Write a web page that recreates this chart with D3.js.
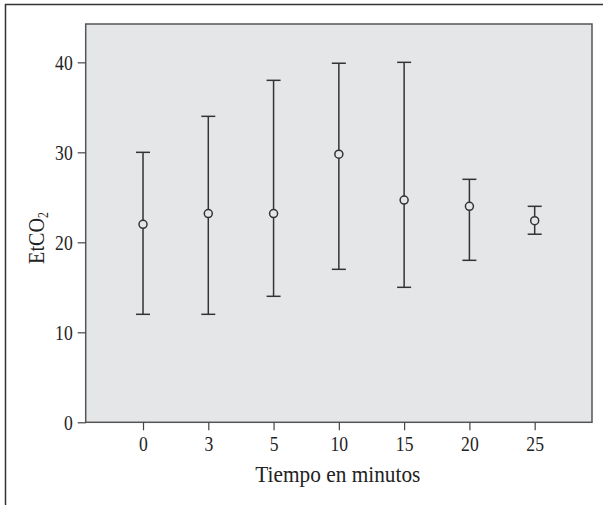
<!DOCTYPE html>
<html>
<head>
<meta charset="utf-8">
<script src="https://cdn.jsdelivr.net/npm/d3@7"></script>
<style>
  html, body { margin: 0; padding: 0; background: #fff; }
  svg { display: block; }
  text { font-family: "Liberation Serif", "Times New Roman", serif; fill: #222; }
</style>
</head>
<body>
<svg id="chart" width="603" height="505"></svg>
<script>
// Data
const categories = ["0", "3", "5", "10", "15", "20", "25"];
const means = [22, 23.2, 23.2, 29.8, 24.7, 24, 22.4];
const lowers = [12, 12, 14, 17, 15, 18, 20.9];
const uppers = [30, 34, 38, 39.9, 40, 27, 24];
const yTicks = [0, 10, 20, 30, 40];
const xTitle = "Tiempo en minutos";

const svg = d3.select("#chart");
const plot = { left: 85.7, top: 24, right: 592, bottom: 422.3 };

// Outer frame
svg.append("path")
  .attr("d", `M5.5,505 L5.5,4.5 L603,4.5`)
  .attr("fill", "none").attr("stroke", "#333").attr("stroke-width", 1.5);

const x = d3.scalePoint().domain(categories)
  .range([plot.left, plot.right]).padding(0.878);
const y = d3.scaleLinear().domain([0, 44.26]).range([plot.bottom, plot.top]);

// Plot background
svg.append("rect")
  .attr("x", plot.left).attr("y", plot.top)
  .attr("width", plot.right - plot.left).attr("height", plot.bottom - plot.top)
  .attr("fill", "#e5e6e8").attr("stroke", "#555").attr("stroke-width", 1.5);

const sx = 0.84;

// Y axis
const yAxis = svg.append("g")
  .attr("transform", `translate(${plot.left},0)`)
  .call(d3.axisLeft(y).tickValues(yTicks).tickSize(8).tickPadding(5).tickFormat(d3.format("d")));
yAxis.select(".domain").remove();
yAxis.selectAll("line").attr("stroke", "#444").attr("stroke-width", 1.2);
yAxis.selectAll("text").attr("font-size", 21).attr("fill", "#222")
  .attr("x", -13 / sx).attr("transform", `scale(${sx},1)`);

// X axis
const xAxis = svg.append("g")
  .attr("transform", `translate(0,${plot.bottom})`)
  .call(d3.axisBottom(x).tickSize(8).tickPadding(6));
xAxis.select(".domain").remove();
xAxis.selectAll("line").attr("stroke", "#444").attr("stroke-width", 1.2);
xAxis.selectAll("text").attr("font-size", 21).attr("fill", "#222")
  .attr("transform", `scale(${sx},1)`);

// Axis titles
svg.append("text")
  .attr("x", (plot.left + plot.right) / 2 - 1).attr("y", 482)
  .attr("text-anchor", "middle").attr("font-size", 24)
  .attr("textLength", 165).attr("lengthAdjust", "spacingAndGlyphs")
  .text(xTitle);

const yt = svg.append("text")
  .attr("transform", `translate(44,238) rotate(-90) scale(${sx},1)`)
  .attr("text-anchor", "middle").attr("font-size", 24);
yt.append("tspan").text("EtCO");
yt.append("tspan").attr("font-size", 14).attr("dy", 4).text("2");

// Error bars
const capW = 7;
const g = svg.append("g").attr("stroke", "#333").attr("stroke-width", 1.5).attr("fill", "none");
categories.forEach((c, i) => {
  const cx = x(c);
  g.append("line").attr("x1", cx).attr("x2", cx).attr("y1", y(lowers[i])).attr("y2", y(uppers[i]));
  g.append("line").attr("x1", cx - capW).attr("x2", cx + capW).attr("y1", y(uppers[i])).attr("y2", y(uppers[i]));
  g.append("line").attr("x1", cx - capW).attr("x2", cx + capW).attr("y1", y(lowers[i])).attr("y2", y(lowers[i]));
  g.append("circle").attr("cx", cx).attr("cy", y(means[i])).attr("r", 4).attr("fill", "#e5e6e8");
});
</script>
</body>
</html>
